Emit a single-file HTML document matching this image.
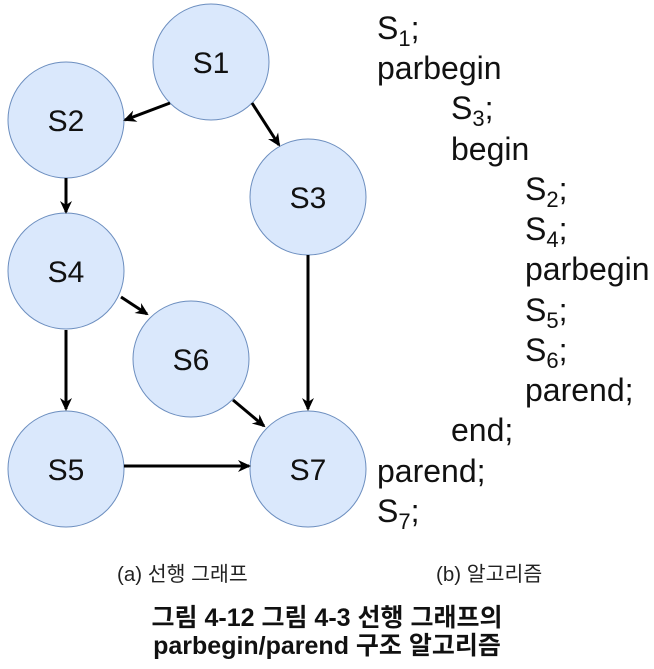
<!DOCTYPE html>
<html><head><meta charset="utf-8"><style>
body{margin:0;width:654px;height:669px;background:#fff;overflow:hidden;font-family:"Liberation Sans","Noto Sans CJK KR",sans-serif;}
.t{position:absolute;font-size:32px;color:#111;line-height:1;white-space:nowrap}
sub{font-size:22px;vertical-align:-7px;line-height:0}
.c{position:absolute;font-size:20.5px;color:#222;white-space:nowrap;line-height:1}
.h{position:absolute;left:0;width:654px;text-align:center;font-size:25px;font-weight:bold;color:#111;line-height:1}
</style></head><body>
<svg width="654" height="669" style="position:absolute;left:0;top:0">
<defs><marker id="a" markerWidth="14" markerHeight="14" refX="11" refY="7" orient="auto" markerUnits="userSpaceOnUse"><path d="M0,1 L13,7 L0,13 L4,7 Z" fill="#000"/></marker></defs>
<g fill="#dae8fc" stroke="#6c8ebf" stroke-width="1">
<circle cx="211" cy="62" r="58"/><circle cx="66" cy="120" r="58"/><circle cx="308" cy="197" r="58"/>
<circle cx="66" cy="271" r="58"/><circle cx="191" cy="359" r="58"/><circle cx="66" cy="469" r="58"/><circle cx="308" cy="469" r="58"/>
</g>
<g stroke="#000" stroke-width="3" marker-end="url(#a)">
<line x1="170" y1="103" x2="125" y2="120"/><line x1="252" y1="103" x2="279" y2="145"/>
<line x1="66" y1="178" x2="66" y2="212"/><line x1="121" y1="297" x2="147" y2="314"/>
<line x1="66" y1="330" x2="66" y2="409"/><line x1="308" y1="255" x2="308" y2="409"/>
<line x1="233" y1="400" x2="264" y2="426"/><line x1="124" y1="466" x2="249" y2="466"/>
</g>
<g font-family="Liberation Sans" font-size="30" fill="#111" text-anchor="middle">
<text x="211" y="73">S1</text><text x="66" y="131">S2</text><text x="308" y="208">S3</text>
<text x="66" y="282">S4</text><text x="191" y="370">S6</text><text x="66" y="480">S5</text><text x="308" y="480">S7</text>
</g></svg>
<div class="t" style="left:377px;top:12px">S<sub>1</sub>;</div>
<div class="t" style="left:377px;top:52px">parbegin</div>
<div class="t" style="left:451px;top:92px">S<sub>3</sub>;</div>
<div class="t" style="left:451px;top:133px">begin</div>
<div class="t" style="left:525px;top:173px">S<sub>2</sub>;</div>
<div class="t" style="left:525px;top:213px">S<sub>4</sub>;</div>
<div class="t" style="left:525px;top:253px">parbegin</div>
<div class="t" style="left:525px;top:294px">S<sub>5</sub>;</div>
<div class="t" style="left:525px;top:334px">S<sub>6</sub>;</div>
<div class="t" style="left:525px;top:374px">parend;</div>
<div class="t" style="left:451px;top:414px">end;</div>
<div class="t" style="left:377px;top:455px">parend;</div>
<div class="t" style="left:377px;top:495px">S<sub>7</sub>;</div>
<div class="c" style="left:117px;top:565px">(a) 선행 그래프</div>
<div class="c" style="left:436px;top:565px">(b) 알고리즘</div>
<div class="h" style="top:606px">그림 4-12 그림 4-3 선행 그래프의</div>
<div class="h" style="top:634px">parbegin/parend 구조 알고리즘</div>
</body></html>
